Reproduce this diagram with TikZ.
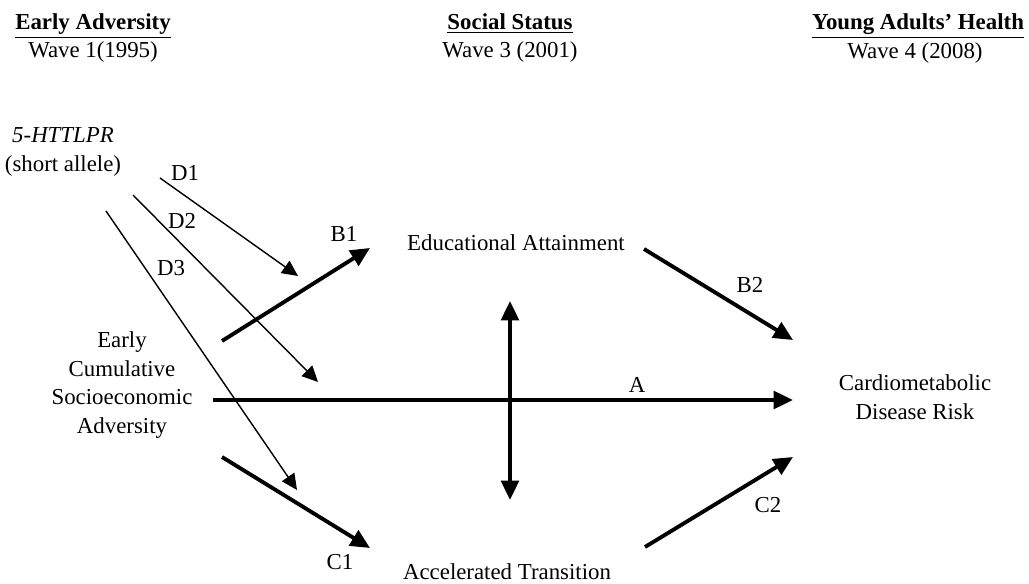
\documentclass[tikz,border=0pt]{standalone}
\usepackage{fontspec}
\setmainfont{Liberation Serif}
\usetikzlibrary{arrows.meta}

\begin{document}
\begin{tikzpicture}[x=0.02cm, y=-0.02cm,
    every node/.style={font=\fontsize{13}{16.2}\selectfont, align=center, inner sep=0pt},
    headtext/.style={anchor=base},
    boldpath/.style={line width=2.2pt, -{Triangle[length=11pt, width=10pt]}},
    thinpath/.style={line width=0.8pt, -{Triangle[length=9pt, width=8.5pt]}}]
    \useasboundingbox (0,0) rectangle (1029,584);

    % Wave headers
    \node[headtext] (advhead) at (93,30) {\underline{\textbf{Early Adversity}}};
    \node[headtext] (wave1) at (93,58) {Wave 1(1995)};
    \node[headtext] (stathead) at (510,30) {\underline{\textbf{Social Status}}};
    \node[headtext] (wave3) at (510,58) {Wave 3 (2001)};
    \node[headtext] (healthhead) at (918,30) {\underline{\textbf{Young Adults' Health}}};
    \node[headtext] (wave4) at (915,59) {Wave 4 (2008)};

    % Constructs
    \node (gene) at (63,152) {\textit{5-HTTLPR}\\(short allele)};
    \node (ses) at (122,385) {Early\\Cumulative\\Socioeconomic\\Adversity};
    \node (edu) at (516,243) {Educational Attainment};
    \node (trans) at (507,572) {Accelerated Transition};
    \node (cmr) at (915,397) {Cardiometabolic\\Disease Risk};

    % Arrow ends
    \coordinate (d1s) at (160,178);  \coordinate (d1e) at (298,276);
    \coordinate (d2s) at (133,195);  \coordinate (d2e) at (318,382);
    \coordinate (d3s) at (106,211);  \coordinate (d3e) at (297,490);
    \coordinate (b1s) at (222,341);  \coordinate (b1e) at (370,248);
    \coordinate (b2s) at (644,249);  \coordinate (b2e) at (793,340);
    \coordinate (as) at (213,400);   \coordinate (ae) at (793,400);
    \coordinate (c1s) at (222,457);  \coordinate (c1e) at (370,548);
    \coordinate (c2s) at (645,547);  \coordinate (c2e) at (793,457);
    \coordinate (vtop) at (510,301); \coordinate (vbot) at (510,500);

    % Moderation paths
    \draw[thinpath] (d1s) -- (d1e);
    \draw[thinpath] (d2s) -- (d2e);
    \draw[thinpath] (d3s) -- (d3e);
    \node (d1lab) at (185,173) {D1};
    \node (d2lab) at (182,221) {D2};
    \node (d3lab) at (171,268) {D3};

    % Main paths
    \draw[boldpath] (b1s) -- (b1e);
    \draw[boldpath] (b2s) -- (b2e);
    \draw[boldpath] (as) -- (ae);
    \draw[boldpath] (c1s) -- (c1e);
    \draw[boldpath] (c2s) -- (c2e);
    \draw[line width=2.2pt, {Triangle[length=11pt, width=10pt]}-{Triangle[length=11pt, width=10pt]}] (vtop) -- (vbot);
    \node (b1lab) at (344,234) {B1};
    \node (b2lab) at (750,285) {B2};
    \node (alab) at (637,385) {A};
    \node (c1lab) at (340,562) {C1};
    \node (c2lab) at (768,505) {C2};
\end{tikzpicture}
\end{document}
